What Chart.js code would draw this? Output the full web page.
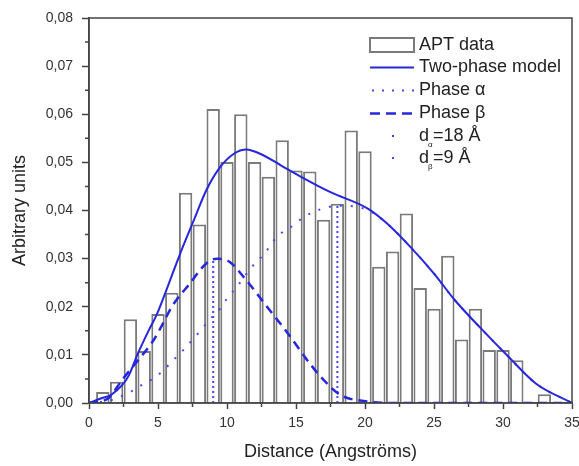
<!DOCTYPE html>
<html lang="en">
  <head>
    <meta charset="UTF-8" />
    <title>APT distance histogram</title>
    <script src="https://cdn.jsdelivr.net/npm/chart.js"></script>
    <style>
      body { margin: 0; background: #fff; }
      .wrap { width: 579px; height: 466px; }
    </style>
  </head>
  <body>
    <div class="wrap"><canvas id="aptChart"></canvas></div>
    <script>
      // histogram (bin centres in Angstroms)
      const binCenters = [1, 2, 3, 4, 5, 6, 7, 8, 9, 10, 11, 12, 13, 14, 15, 16, 17,
        18, 19, 20, 21, 22, 23, 24, 25, 26, 27, 28, 29, 30, 31, 32, 33];
      const aptData = [0.0023, 0.0044, 0.0174, 0.0108, 0.0185, 0.0229, 0.0437, 0.0371,
        0.0611, 0.0501, 0.0600, 0.0501, 0.0470, 0.0546, 0.0483, 0.0481, 0.0381,
        0.0414, 0.0566, 0.0523, 0.0283, 0.0315, 0.0394, 0.0239, 0.0196, 0.0306,
        0.0132, 0.0196, 0.0110, 0.0110, 0.0089, 0, 0.0018];

      // fitted curves
      const modelX = [0, 0.9, 1.6, 2.4, 2.9, 3.5, 4.4, 4.9, 5.6, 6.6, 7.6, 8.5, 9.5,
        10.5, 11.4, 12.4, 13.9, 15.3, 17.5, 20.2, 21.6, 23.3, 25.0, 26.5, 28.4, 30.4, 32.4, 35];
      const modelY = [0, 0.0010, 0.0017, 0.0037, 0.0058, 0.0100, 0.0155, 0.0183, 0.0234,
        0.0310, 0.0380, 0.0442, 0.0490, 0.0518, 0.0527, 0.0518, 0.0494, 0.0471, 0.0438,
        0.0404, 0.0373, 0.0324, 0.0269, 0.0214, 0.0155, 0.0096, 0.0040, 0];

      const alphaX = [0, 1.5, 2.25, 3.0, 3.8, 4.55, 5.4, 6.0, 6.6, 8.1, 8.7, 9.5, 10.0,
        10.7, 11.9, 12.7, 13.6, 14.8, 15.6, 16.3, 17.3, 18.1, 20.2, 21.6, 23.3, 25.0,
        26.5, 28.4, 30.4, 32.4, 35];
      const alphaY = [0, 0.0005, 0.0013, 0.0023, 0.0037, 0.0049, 0.0068, 0.0086, 0.0103,
        0.0151, 0.0172, 0.0196, 0.0217, 0.0241, 0.0286, 0.0310, 0.0345, 0.0369, 0.0387,
        0.0397, 0.0407, 0.0410, 0.0401, 0.0373, 0.0324, 0.0269, 0.0214, 0.0155, 0.0096,
        0.0040, 0];

      const betaX = [0, 1.4, 2.4, 3.5, 4.6, 5.3, 6.0, 7.3, 8.5, 9.3, 10.2, 11.4, 12.9,
        14.4, 16.0, 17.0, 18.2, 20.2, 22, 35];
      const betaY = [0, 0.0010, 0.0048, 0.0087, 0.0127, 0.0162, 0.0200, 0.0248, 0.0290,
        0.0300, 0.0293, 0.0255, 0.0200, 0.0145, 0.0082, 0.0048, 0.0017, 0.0003, 0, 0];

      // characteristic distances (vertical markers)
      const dAlpha = [18, 0.0412];
      const dBeta = [9, 0.0298];

      const blue = "#2626dc";
      const lightBlue = "#4646ec";
      const axisColor = "#444";
      const fontFam = '"Liberation Sans", Arial, sans-serif';

      const pts = (xs, ys) => xs.map((x, i) => ({ x: x, y: ys[i] }));

      const frameAndMinor = {
        id: "frameAndMinor",
        afterDraw(chart) {
          const { ctx, chartArea: a, scales } = chart;
          ctx.save();
          ctx.strokeStyle = axisColor;
          ctx.lineWidth = 1.5;
          ctx.strokeRect(a.left, a.top, a.right - a.left, a.bottom - a.top);
          // minor ticks
          ctx.beginPath();
          for (let v = 2.5; v < 35; v += 5) {
            const px = scales.x.getPixelForValue(v);
            ctx.moveTo(px, a.bottom);
            ctx.lineTo(px, a.bottom + 4);
          }
          for (let v = 0.005; v < 0.08; v += 0.01) {
            const py = scales.y.getPixelForValue(v);
            ctx.moveTo(a.left, py);
            ctx.lineTo(a.left - 4, py);
          }
          ctx.stroke();

          // legend
          const x0 = 370, x1 = 414, tx = 419;
          const rows = [45, 67.5, 90.5, 113.5, 136, 158];
          ctx.font = "18px " + fontFam;
          ctx.textBaseline = "middle";

          ctx.fillStyle = "#fff";
          ctx.fillRect(x0, rows[0] - 7, x1 - x0, 14);
          ctx.strokeStyle = "#7a7a7a";
          ctx.lineWidth = 2;
          ctx.strokeRect(x0, rows[0] - 7, x1 - x0, 14);

          ctx.strokeStyle = blue;
          ctx.lineWidth = 2;
          ctx.beginPath();
          ctx.moveTo(x0, rows[1]);
          ctx.lineTo(x1, rows[1]);
          ctx.stroke();

          ctx.strokeStyle = lightBlue;
          ctx.setLineDash([2, 8]);
          ctx.beginPath();
          ctx.moveTo(x0 + 2, rows[2]);
          ctx.lineTo(x1, rows[2]);
          ctx.stroke();

          ctx.strokeStyle = blue;
          ctx.lineWidth = 2.5;
          ctx.setLineDash([10, 6]);
          ctx.beginPath();
          ctx.moveTo(x0, rows[3]);
          ctx.lineTo(x1, rows[3]);
          ctx.stroke();
          ctx.setLineDash([]);

          ctx.fillStyle = lightBlue;
          ctx.fillRect(392, rows[4] - 1, 2, 2);
          ctx.fillRect(392, rows[5] - 1, 2, 2);

          ctx.fillStyle = "#222";
          ctx.fillText("APT data", tx, rows[0]);
          ctx.fillText("Two-phase model", tx, rows[1]);
          ctx.fillText("Phase \u03b1", tx, rows[2]);
          ctx.fillText("Phase \u03b2", tx, rows[3]);
          ctx.fillText("d", tx, rows[4]);
          ctx.fillText("=18 \u00c5", tx + 14, rows[4]);
          ctx.fillText("d", tx, rows[5]);
          ctx.fillText("=9 \u00c5", tx + 14, rows[5]);
          ctx.font = "8px " + fontFam;
          ctx.fillText("\u03b1", tx + 9, rows[4] + 9);
          ctx.fillText("\u03b2", tx + 9, rows[5] + 9);
          ctx.restore();
        },
      };

      new Chart(document.getElementById("aptChart"), {
        type: "bar",
        data: {
          datasets: [
            {
              type: "line",
              label: "Two-phase model",
              data: pts(modelX, modelY),
              borderColor: blue,
              borderWidth: 2,
              pointRadius: 0,
              cubicInterpolationMode: "monotone",
              order: 1,
            },
            {
              type: "line",
              label: "Phase \u03b2",
              data: pts(betaX, betaY),
              borderColor: blue,
              borderWidth: 2.5,
              borderDash: [9, 6],
              pointRadius: 0,
              cubicInterpolationMode: "monotone",
              order: 2,
            },
            {
              type: "line",
              label: "Phase \u03b1",
              data: pts(alphaX, alphaY),
              borderColor: lightBlue,
              borderWidth: 2,
              borderDash: [2, 9],
              pointRadius: 0,
              cubicInterpolationMode: "monotone",
              order: 3,
            },
            {
              type: "line",
              label: "d alpha",
              data: [{ x: dAlpha[0], y: 0 }, { x: dAlpha[0], y: dAlpha[1] }],
              borderColor: lightBlue,
              borderWidth: 2,
              borderDash: [2, 3],
              pointRadius: 0,
              order: 4,
            },
            {
              type: "line",
              label: "d beta",
              data: [{ x: dBeta[0], y: 0 }, { x: dBeta[0], y: dBeta[1] }],
              borderColor: lightBlue,
              borderWidth: 2,
              borderDash: [2, 3],
              pointRadius: 0,
              order: 5,
            },
            {
              label: "APT data",
              data: pts(binCenters, aptData),
              backgroundColor: "#fff",
              borderColor: "#7a7a7a",
              borderWidth: 2,
              barPercentage: 0.97,
              categoryPercentage: 1,
              order: 10,
            },
          ],
        },
        options: {
          responsive: true,
          maintainAspectRatio: false,
          animation: false,
          layout: { padding: { top: 18, right: 7, left: 0, bottom: 0 } },
          plugins: { legend: { display: false }, tooltip: { enabled: false } },
          scales: {
            x: {
              type: "linear",
              min: 0,
              max: 35,
              offset: false,
              afterFit: (s) => { s.height = 63; s.paddingLeft = 0; s.paddingRight = 0; },
              ticks: { stepSize: 5, color: "#333", font: { size: 14, family: fontFam }, padding: 6, maxRotation: 0 },
              grid: { offset: false, drawOnChartArea: false, tickLength: 6, tickColor: axisColor, tickWidth: 1.5 },
              border: { color: axisColor, width: 1.5 },
              title: {
                display: true,
                text: "Distance (Angstr\u00f6ms)",
                color: "#222",
                font: { size: 18, family: fontFam },
                padding: { top: 0, bottom: 3 },
              },
            },
            y: {
              min: 0,
              max: 0.08,
              afterFit: (s) => { s.width = 89; s.paddingTop = 0; s.paddingBottom = 0; },
              ticks: {
                stepSize: 0.01,
                color: "#333",
                font: { size: 14, family: fontFam },
                padding: 9,
                callback: (v) => v.toFixed(2).replace(".", ","),
              },
              grid: { drawOnChartArea: false, tickLength: 7, tickColor: axisColor, tickWidth: 1.5 },
              border: { color: axisColor, width: 1.5 },
              title: {
                display: true,
                text: "Arbitrary units",
                color: "#222",
                font: { size: 18, family: fontFam },
                padding: { top: 9, bottom: 0 },
              },
            },
          },
        },
        plugins: [frameAndMinor],
      });
    </script>
  </body>
</html>
